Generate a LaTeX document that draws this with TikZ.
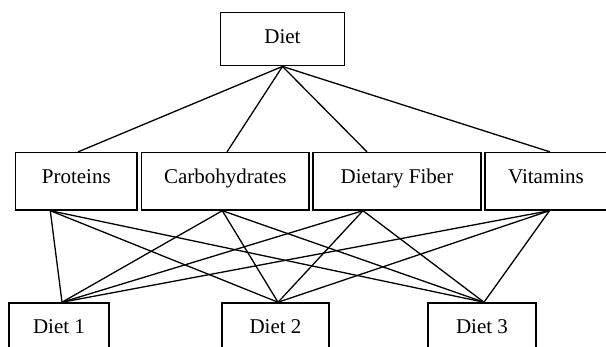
\documentclass[tikz,border=0pt]{standalone}
\usepackage{fontspec}
\setmainfont{Liberation Serif}
\begin{document}
\begin{tikzpicture}[x=1pt,y=1pt,
  box/.style={draw=black,line width=1.5pt,inner sep=0pt,fill=white,
    font=\fontsize{21}{25}\selectfont,text height=14pt,text depth=10pt},
  topbox/.style={box,text depth=5.4pt},
  link/.style={line width=1.3pt}]
\useasboundingbox (0,0) rectangle (606,347);
\clip (0,0) rectangle (606,347);
\fill[white] (0,0) rectangle (606,347);
% nodes
\node[topbox,minimum width=123.6pt,minimum height=53.4pt] (diet) at (282.5,308) {Diet};
\node[box,minimum width=121.3pt,minimum height=57.3pt] (p) at (76.3,165.7) {Proteins};
\node[box,minimum width=167.3pt,minimum height=57.3pt] (c) at (225.3,165.7) {Carbohydrates};
\node[box,minimum width=168pt,minimum height=57.3pt] (f) at (397,165.7) {Dietary Fiber};
\node[box,minimum width=122pt,minimum height=57.3pt] (v) at (546,165.7) {Vitamins};
\node[box,minimum width=100pt,minimum height=58pt] (d1) at (59,15) {Diet 1};
\node[box,minimum width=107pt,minimum height=58pt] (d2) at (275.5,15) {Diet 2};
\node[box,minimum width=108pt,minimum height=58pt] (d3) at (482,15) {Diet 3};
% connectors top
\foreach \n/\s in {p/1.7,c/1.7,f/-30,v/4} {
  \draw[link] (diet.south) -- ([xshift=\s pt]\n.north);
}
% connectors bottom
\foreach \n/\s in {p/-26,c/-3,f/-34,v/3.5} {
  \foreach \m/\t in {d1/3,d2/2.5,d3/2} {
    \draw[link] ([xshift=\s pt]\n.south) -- ([xshift=\t pt]\m.north);
  }
}
\end{tikzpicture}
\end{document}
